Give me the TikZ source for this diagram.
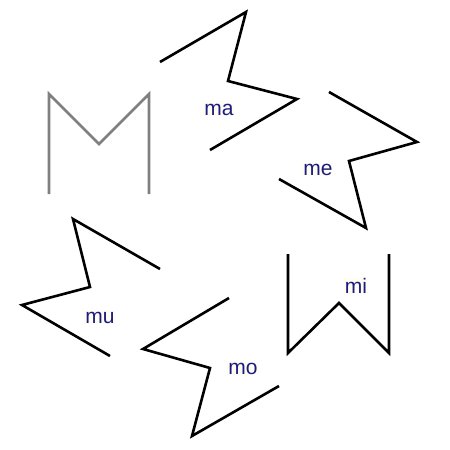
\documentclass[tikz,border=0pt]{standalone}
\usepackage{fontspec}
\setmainfont{Liberation Sans}
\definecolor{labelblue}{RGB}{28,28,128}

\begin{document}
\begin{tikzpicture}[x=1pt,y=-1pt,line width=2.6pt,
        every node/.style={text=labelblue,fill=yellow!4,inner sep=1pt,anchor=base,
                           font=\fontsize{21}{24}\selectfont}]
        \useasboundingbox (0,0) rectangle (450,450);

        % the letter
        \draw [gray] (49,194) -- (49,94) -- (99,144) -- (149,94) -- (149,194);

        % turned copies
        \draw (160,62) -- (246,12) -- (228,81) -- (297,99) -- (210,150);
        \draw (329,92) -- (417,142) -- (349,161) -- (366,228) -- (279,179);
        \draw (288,254) -- (288,353) -- (339,303) -- (389,353) -- (389,254);
        \draw (229,298) -- (143,349) -- (210,368) -- (192,436) -- (279,386);
        \draw (160,269) -- (73,219) -- (90,287) -- (22,305) -- (110,356);

        \node (ma) at (219,115) {ma};
        \node (me) at (318,175) {me};
        \node (mi) at (356,293) {mi};
        \node (mo) at (243,374) {mo};
        \node (mu) at (100,323) {mu};
    \end{tikzpicture}
\end{document}
